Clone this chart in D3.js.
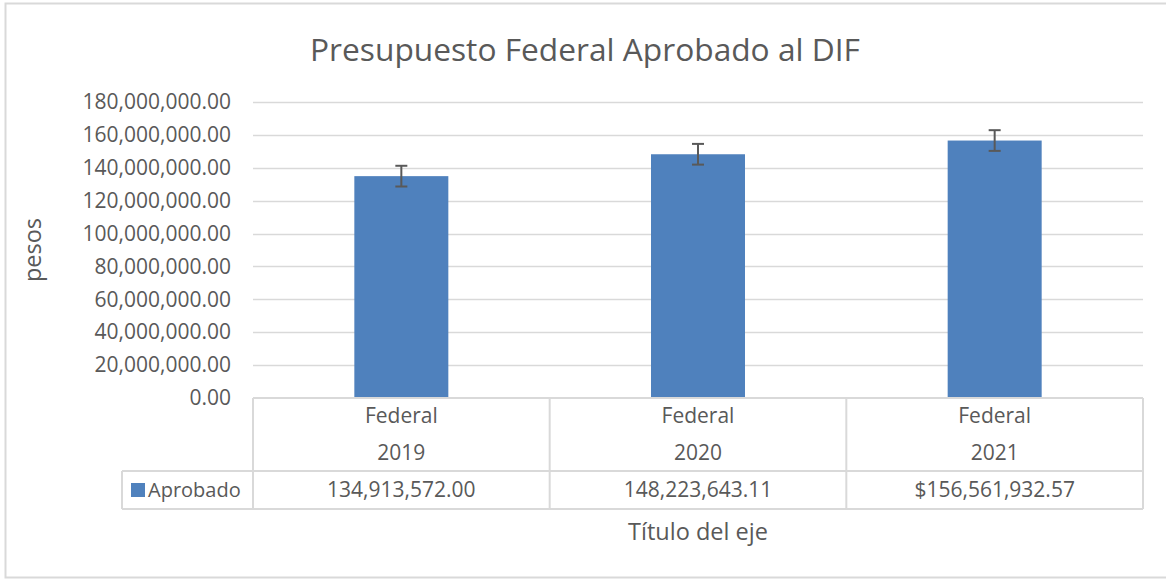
<!DOCTYPE html>
<html lang="es">
<head>
<meta charset="UTF-8">
<title>Presupuesto Federal Aprobado al DIF</title>
<script src="https://d3js.org/d3.v7.min.js"></script>
<style>
  body { margin: 0; background: #fff; font-family: "Open Sans", sans-serif; }
  svg text { fill: #595959; }
</style>
</head>
<body>
<svg id="chart" width="1166" height="579"></svg>
<script>
// data
const groups = ["Federal", "Federal", "Federal"];
const years = ["2019", "2020", "2021"];
const seriesName = "Aprobado";
const values = [134913572.00, 148223643.11, 156561932.57];
const valueLabels = ["134,913,572.00", "148,223,643.11", "$156,561,932.57"];
const errorAmounts = [6.3e6, 6.3e6, 6.3e6]; // standard error bars, same size on each bar
const yTicks = [0, 20e6, 40e6, 60e6, 80e6, 100e6, 120e6, 140e6, 160e6, 180e6];

const svg = d3.select("#chart");
const barColor = "#4f81bd";
const lineColor = "#d9d9d9";
const fontSize = "21px";

// chart frame
svg.append("rect")
  .attr("x", 5.5).attr("y", 3.5)
  .attr("width", 1166).attr("height", 574)
  .attr("fill", "none").attr("stroke", lineColor).attr("stroke-width", 2);

const plotL = 253, plotR = 1143, plotT = 102, plotB = 398;

const x = d3.scaleBand().domain(years).range([plotL, plotR]).paddingInner(0).paddingOuter(0);
const y = d3.scaleLinear().domain([0, 180e6]).range([plotB, plotT]);

// title
svg.append("text")
  .attr("x", 585).attr("y", 61)
  .attr("text-anchor", "middle")
  .style("font-size", "31.7px")
  .text("Presupuesto Federal Aprobado al DIF");

// gridlines
svg.append("g").selectAll("line")
  .data(yTicks.filter(d => d > 0))
  .join("line")
  .attr("x1", plotL).attr("x2", plotR)
  .attr("y1", d => Math.round(y(d)) + 0.5).attr("y2", d => Math.round(y(d)) + 0.5)
  .attr("stroke", lineColor).attr("stroke-width", 1.5);

// y axis labels
const yAxis = svg.append("g")
  .attr("transform", `translate(${plotL},0)`)
  .call(d3.axisLeft(y).tickValues(yTicks).tickSize(0).tickPadding(22)
    .tickFormat(d => d3.format(",.2f")(d)));
yAxis.select(".domain").remove();
yAxis.selectAll("text")
  .attr("fill", "#595959")
  .style("font-family", "'Open Sans', sans-serif")
  .style("font-size", fontSize);

// y axis title
svg.append("text")
  .attr("transform", "translate(41,250) rotate(-90)")
  .attr("text-anchor", "middle")
  .style("font-size", "23.5px")
  .text("pesos");

// bars
const barW = 94;
svg.append("g").selectAll("rect")
  .data(values)
  .join("rect")
  .attr("x", (d, i) => x(years[i]) + x.bandwidth() / 2 - barW / 2)
  .attr("y", d => y(d))
  .attr("width", barW)
  .attr("height", d => y(0) - y(d))
  .attr("fill", barColor);

// error bars
const eb = svg.append("g").attr("stroke", "#595959").attr("stroke-width", 2);
values.forEach((v, i) => {
  const cx = x(years[i]) + x.bandwidth() / 2;
  const y1 = y(v + errorAmounts[i]), y2 = y(v - errorAmounts[i]);
  eb.append("line").attr("x1", cx).attr("x2", cx).attr("y1", y1).attr("y2", y2);
  eb.append("line").attr("x1", cx - 6).attr("x2", cx + 6).attr("y1", y1).attr("y2", y1);
  eb.append("line").attr("x1", cx - 6).attr("x2", cx + 6).attr("y1", y2).attr("y2", y2);
});

// data table
const rowTop = 471, rowBottom = 509, tableLeft = 122;
const tg = svg.append("g").attr("stroke", lineColor).attr("stroke-width", 2);
tg.append("line").attr("x1", plotL).attr("x2", plotR).attr("y1", plotB).attr("y2", plotB);
tg.append("line").attr("x1", tableLeft).attr("x2", plotR).attr("y1", rowTop).attr("y2", rowTop);
tg.append("line").attr("x1", tableLeft).attr("x2", plotR).attr("y1", rowBottom).attr("y2", rowBottom);
tg.append("line").attr("x1", tableLeft).attr("x2", tableLeft).attr("y1", rowTop).attr("y2", rowBottom);
[plotL, ...years.map(d => x(d) + x.bandwidth())].forEach(xx => {
  tg.append("line").attr("x1", xx).attr("x2", xx).attr("y1", plotB).attr("y2", rowBottom);
});

const cat = svg.append("g").style("font-size", fontSize).attr("text-anchor", "middle");
years.forEach((yr, i) => {
  const cx = x(yr) + x.bandwidth() / 2;
  cat.append("text").attr("x", cx).attr("y", 423).text(groups[i]);
  cat.append("text").attr("x", cx).attr("y", 460).text(yr);
  cat.append("text").attr("x", cx).attr("y", 497).text(valueLabels[i]);
});

// legend key in table
svg.append("rect")
  .attr("x", 131).attr("y", 483).attr("width", 14).attr("height", 14)
  .attr("fill", barColor);
svg.append("text")
  .attr("x", 148).attr("y", 497)
  .style("font-size", "20px")
  .text(seriesName);

// x axis title
svg.append("text")
  .attr("x", (plotL + plotR) / 2).attr("y", 540)
  .attr("text-anchor", "middle")
  .style("font-size", "23.5px")
  .text("Título del eje");
</script>
</body>
</html>
